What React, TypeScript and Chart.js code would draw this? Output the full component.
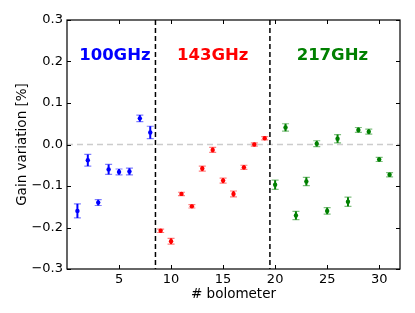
import { useEffect, useRef } from 'react';
import { Chart, registerables } from 'chart.js';
Chart.register(...registerables);

const bolo100 = [1, 2, 3, 4, 5, 6, 7, 8];
const gain100 = [-0.160, -0.038, -0.140, -0.060, -0.066, -0.065, 0.063, 0.029];
const err100 = [0.017, 0.014, 0.007, 0.012, 0.007, 0.008, 0.008, 0.015];

const bolo143 = [9, 10, 11, 12, 13, 14, 15, 16, 17, 18, 19];
const gain143 = [-0.208, -0.233, -0.119, -0.149, -0.058, -0.013, -0.087, -0.119, -0.055, 0.000, 0.015];
const err143 = [0.004, 0.007, 0.004, 0.004, 0.006, 0.006, 0.006, 0.007, 0.005, 0.004, 0.004];

const bolo217 = [20, 21, 22, 23, 24, 25, 26, 27, 28, 29, 30, 31];
const gain217 = [-0.097, 0.041, -0.171, -0.089, 0.002, -0.160, 0.014, -0.138, 0.035, 0.031, -0.036, -0.073];
const err217 = [0.011, 0.009, 0.010, 0.010, 0.007, 0.008, 0.010, 0.011, 0.006, 0.006, 0.005, 0.005];

const bandNames = ['100GHz', '143GHz', '217GHz'];
const bandColors = ['#0000ff', '#ff0000', '#008000'];
const bandLabelX = [4.6, 14.0, 25.5];
const bandLabelY = 0.215;
const separators = [8.5, 19.5];

const xTicks = [5, 10, 15, 20, 25, 30];
const yTicks = [-0.3, -0.2, -0.1, 0.0, 0.1, 0.2, 0.3];

const FONT = 'DejaVu Sans';

function hexAlpha(hex: string, a: number) {
  const r = parseInt(hex.slice(1, 3), 16);
  const g = parseInt(hex.slice(3, 5), 16);
  const b = parseInt(hex.slice(5, 7), 16);
  return `rgba(${r},${g},${b},${a})`;
}

const errs = [err100, err143, err217];

const decorPlugin = {
  id: 'decor',
  beforeDatasetsDraw(chart: any) {
    const { ctx, chartArea, scales } = chart;
    const xs = scales.x, ys = scales.y;
    ctx.save();
    // zero line
    ctx.strokeStyle = '#cccccc';
    ctx.lineWidth = 1.5;
    ctx.setLineDash([6, 4]);
    const y0 = ys.getPixelForValue(0);
    ctx.beginPath();
    ctx.moveTo(chartArea.left, y0);
    ctx.lineTo(chartArea.right, y0);
    ctx.stroke();
    // separators
    ctx.strokeStyle = '#000000';
    ctx.setLineDash([5, 3]);
    ctx.lineWidth = 1.5;
    for (const s of separators) {
      const px = xs.getPixelForValue(s);
      ctx.beginPath();
      ctx.moveTo(px, chartArea.top);
      ctx.lineTo(px, chartArea.bottom);
      ctx.stroke();
    }
    ctx.setLineDash([]);
    // error bars
    chart.data.datasets.forEach((ds: any, i: number) => {
      const e = errs[i];
      ds.data.forEach((p: any, j: number) => {
        const px = xs.getPixelForValue(p.x);
        const top = ys.getPixelForValue(p.y + e[j]);
        const bot = ys.getPixelForValue(p.y - e[j]);
        ctx.strokeStyle = bandColors[i];
        ctx.lineWidth = 2;
        ctx.beginPath();
        ctx.moveTo(px, top);
        ctx.lineTo(px, bot);
        ctx.stroke();
        ctx.strokeStyle = hexAlpha(bandColors[i], 0.5);
        ctx.lineWidth = 1.2;
        ctx.beginPath();
        ctx.moveTo(px - 3.5, top);
        ctx.lineTo(px + 3.5, top);
        ctx.moveTo(px - 3.5, bot);
        ctx.lineTo(px + 3.5, bot);
        ctx.stroke();
      });
    });
    ctx.restore();
  },
  afterDraw(chart: any) {
    const { ctx, chartArea, scales } = chart;
    const xs = scales.x, ys = scales.y;
    const { left, right, top, bottom } = chartArea;
    ctx.save();
    ctx.strokeStyle = '#000';
    ctx.lineWidth = 1.2;
    ctx.strokeRect(left, top, right - left, bottom - top);
    ctx.lineWidth = 1;
    const tl = 4;
    ctx.beginPath();
    for (const v of xTicks) {
      const px = Math.round(xs.getPixelForValue(v)) + 0.5;
      ctx.moveTo(px, bottom);
      ctx.lineTo(px, bottom - tl);
      ctx.moveTo(px, top);
      ctx.lineTo(px, top + tl);
    }
    for (const v of yTicks) {
      const py = Math.round(ys.getPixelForValue(v)) + 0.5;
      ctx.moveTo(left, py);
      ctx.lineTo(left + tl, py);
      ctx.moveTo(right, py);
      ctx.lineTo(right - tl, py);
    }
    ctx.stroke();
    // band labels
    ctx.font = `bold 16.5px "${FONT}"`;
    ctx.textAlign = 'center';
    ctx.textBaseline = 'middle';
    bandNames.forEach((n, i) => {
      ctx.fillStyle = bandColors[i];
      ctx.fillText(n, xs.getPixelForValue(bandLabelX[i]), ys.getPixelForValue(bandLabelY));
    });
    ctx.restore();
  },
};

export default function App() {
  const ref = useRef<HTMLCanvasElement>(null);
  useEffect(() => {
    document.body.style.margin = '0';
    const mk = (xs: number[], ys: number[]) => xs.map((x, i) => ({ x, y: ys[i] }));
    const datasets = [
      { label: '100GHz', data: mk(bolo100, gain100) },
      { label: '143GHz', data: mk(bolo143, gain143) },
      { label: '217GHz', data: mk(bolo217, gain217) },
    ].map((d, i) => ({
      ...d,
      backgroundColor: bandColors[i],
      borderColor: bandColors[i],
      pointRadius: 2.2,
      pointBorderWidth: 0,
      showLine: false,
    }));
    const chart = new Chart(ref.current!, {
      type: 'scatter',
      data: { datasets },
      plugins: [decorPlugin],
      options: {
        animation: false,
        responsive: false,
        maintainAspectRatio: false,
        layout: { padding: { top: 20, right: 15, left: 0, bottom: 0 } },
        plugins: { legend: { display: false }, tooltip: { enabled: false } },
        scales: {
          x: {
            type: 'linear',
            min: 0,
            max: 32,
            afterBuildTicks: (axis: any) => { axis.ticks = xTicks.map((v) => ({ value: v })); },
            afterFit: (axis: any) => { axis.height = 44; },
            grid: { display: false, drawTicks: false, tickLength: 0 },
            border: { display: false },
            ticks: {
              color: '#000',
              padding: 3,
              maxRotation: 0,
              autoSkip: false,
              font: { family: FONT, size: 13 },
              callback: (v: any) => String(v),
            },
            title: {
              display: true,
              text: '# bolometer',
              color: '#000',
              font: { family: FONT, size: 13.5 },
              padding: { top: 0, bottom: 10 },
            },
          },
          y: {
            type: 'linear',
            min: -0.3,
            max: 0.3,
            afterBuildTicks: (axis: any) => { axis.ticks = yTicks.map((v) => ({ value: v })); },
            afterFit: (axis: any) => { axis.width = 67; },
            grid: { display: false, drawTicks: false, tickLength: 0 },
            border: { display: false },
            ticks: {
              color: '#000',
              padding: 4,
              autoSkip: false,
              font: { family: FONT, size: 13 },
              callback: (v: any) => {
                const n = Number(v);
                const s = Math.abs(n).toFixed(1);
                return n < -1e-9 ? '\u2212' + s : s;
              },
            },
            title: {
              display: true,
              text: 'Gain variation [%]',
              color: '#000',
              font: { family: FONT, size: 13.5 },
              padding: { top: 14, bottom: 0 },
            },
          },
        },
      },
    });
    return () => chart.destroy();
  }, []);
  return (
    <div style={{ width: 415, height: 313 }}>
      <canvas ref={ref} width={415} height={313} style={{ display: 'block' }} />
    </div>
  );
}
